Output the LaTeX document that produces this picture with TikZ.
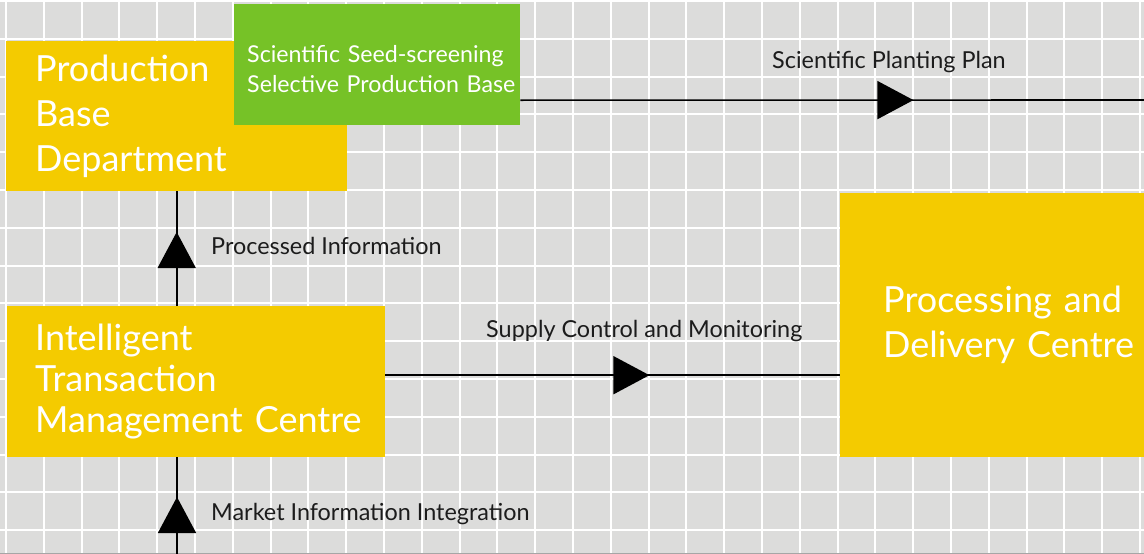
\documentclass[tikz,border=0pt]{standalone}
\usepackage{fontspec}
\setmainfont{Lato}
\usetikzlibrary{arrows.meta,decorations.markings}

\definecolor{boxyellow}{HTML}{F4CB00}
\definecolor{seedgreen}{HTML}{76C227}
\definecolor{paper}{HTML}{DCDCDB}
\definecolor{labelgray}{HTML}{1C1C1C}

\tikzset{
  unit/.style={fill=boxyellow, text=white, anchor=north west, align=left,
    inner xsep=28pt, inner ysep=0pt, font=\fontsize{36}{45}\selectfont},
  seedbox/.style={unit, fill=seedgreen, inner xsep=13pt, font=\fontsize{23.2}{30}\selectfont},
  flow/.style={line width=1.6pt, postaction={decorate},
    decoration={markings, mark=at position #1 with {\arrow{Triangle[length=36pt,width=38pt]}}}},
  flowlabel/.style={anchor=base west, inner sep=0pt, text=labelgray, font=\fontsize{23.4}{26}\selectfont},
  gridline/.style={white, line width=2pt},
}

\begin{document}
\begin{tikzpicture}[x=1pt, y=-1pt]
  \useasboundingbox (0,0) rectangle (1144,554);
  \fill[paper] (0,0) rectangle (1144,554);
  \foreach \i in {0,...,30} \draw[gridline] ({6+37.8*\i},0) -- ({6+37.8*\i},554);
  \foreach \j in {0,...,14} \draw[gridline] (0,{1+37.8*\j}) -- (1144,{1+37.8*\j});
  \draw[gray!70, line width=1.5pt] (0,553.25) -- (1144,553.25);

  \node[unit, inner xsep=29pt, text width=283pt, minimum height=150pt] (prod) at (6,41) {Production\\Base\\Department};
  \node[seedbox, text width=260pt, minimum height=121pt] (seed) at (234,4) {\rule{0pt}{26pt}\mbox{Scientific Seed-screening}\\\mbox{Selective Production Base}};
  \node[unit, text width=322pt, minimum height=151pt, font=\fontsize{36}{41}\selectfont] (itmc) at (7,306) {Intelligent\\Transaction\\\mbox{Management Centre}};
  \node[unit, inner xsep=43pt, text width=218pt, minimum height=264pt] (pdc) at (840,193) {\mbox{Processing and}\\\mbox{Delivery Centre}};

  \coordinate (planend) at (1144,100);
  \coordinate (mktin) at (177,554);

  \draw[flow=393pt] ([yshift=-35.5pt]seed.east) -- (planend);
  \draw[flow=74pt] (prod.south |- itmc.north) -- (prod.south);
  \draw[flow=264pt] ([yshift=6.5pt]itmc.east) -- ([yshift=6.5pt]itmc.east -| pdc.west);
  \draw[flow=57pt] (mktin) -- (mktin |- itmc.south);

  \node[flowlabel] (planlbl) at (772,68) {Scientific Planting Plan};
  \node[flowlabel] (supplylbl) at (486,337) {Supply Control and Monitoring};
  \node[flowlabel] (proclbl) at (211,254) {Processed Information};
  \node[flowlabel] (mktlbl) at (211,520) {Market Information Integration};
\end{tikzpicture}
\end{document}
